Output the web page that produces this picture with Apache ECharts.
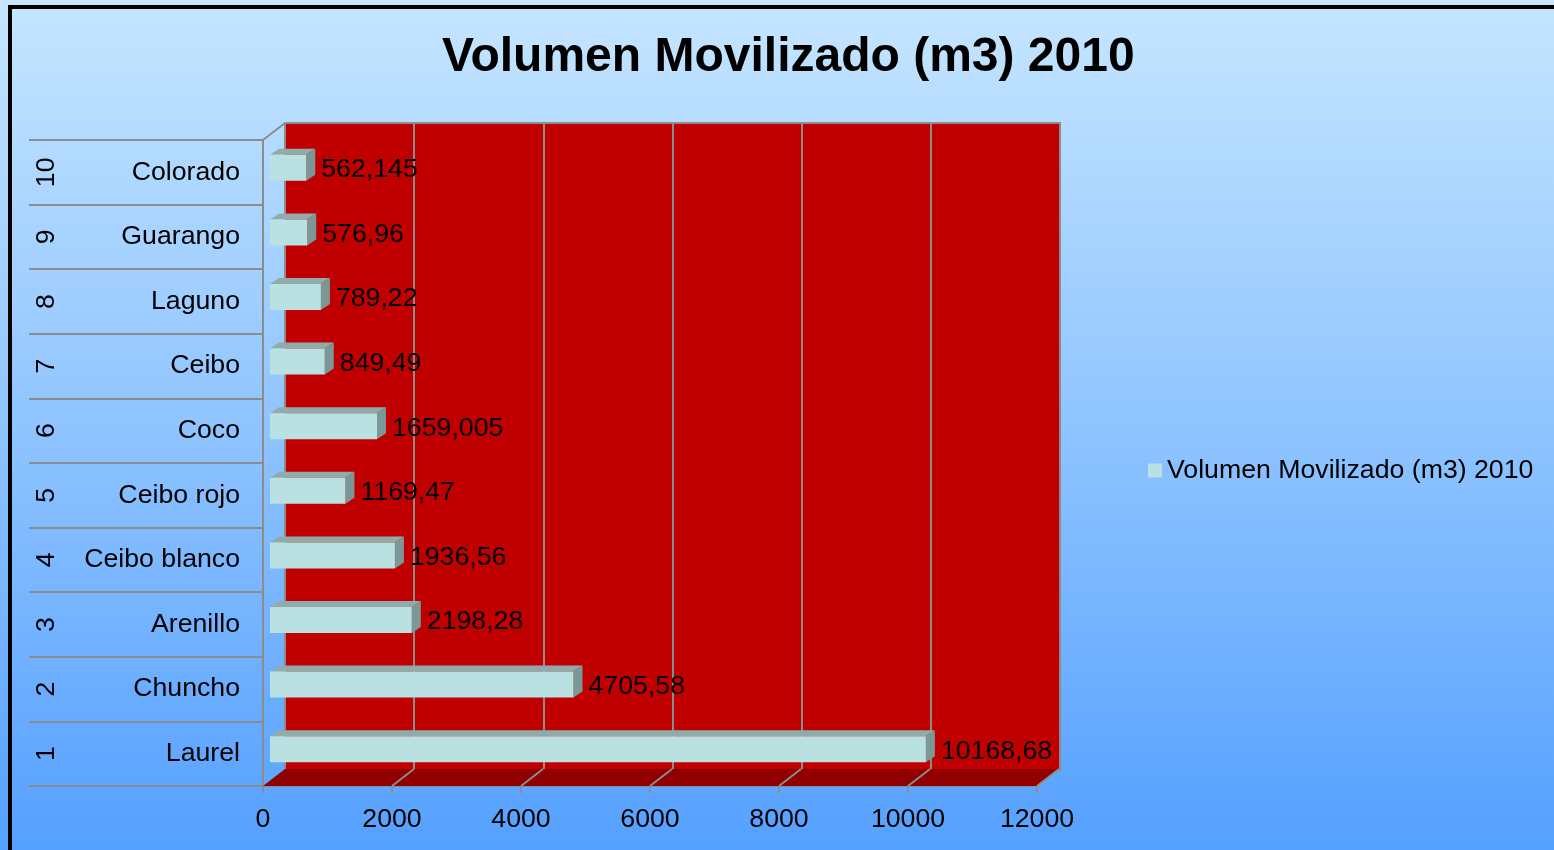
<!DOCTYPE html>
<html>
<head>
<meta charset="utf-8">
<script src="https://cdn.jsdelivr.net/npm/echarts@6/dist/echarts.min.js"></script>
<style>
html,body{margin:0;padding:0;}
#main{width:1554px;height:850px;}
</style>
</head>
<body>
<div id="main"></div>
<script>
// datos del grafico
var categories = ['Laurel', 'Chuncho', 'Arenillo', 'Ceibo blanco', 'Ceibo rojo', 'Coco', 'Ceibo', 'Laguno', 'Guarango', 'Colorado'];
var numbers = ['1', '2', '3', '4', '5', '6', '7', '8', '9', '10'];
var values = [10168.68, 4705.58, 2198.28, 1936.56, 1169.47, 1659.005, 849.49, 789.22, 576.96, 562.145];
var xTicks = [0, 2000, 4000, 6000, 8000, 10000, 12000];
var seriesName = 'Volumen Movilizado (m3) 2010';

var FONT = "'Liberation Sans', Arial, sans-serif";
var FS = 26.7;
var GRAY = '#8C8C8C';
// profundidad del efecto 3D
var DX = 22, DY = 17;
var FRONT = {left: 263, top: 140, width: 774, height: 646};

var BAR_H = 26, BAR_SX = 7, BAR_SY = 4.5, BAR_DX = 9, BAR_DY = 6;

function fmt(v) {
	return String(v).replace('.', ',');
}

function renderBar(params, api) {
	var v = api.value(0), i = api.value(1);
	var p0 = api.coord([0, i]);
	var p1 = api.coord([v, i]);
	var x0 = p0[0] + BAR_SX, x1 = p1[0] + BAR_SX;
	var yc = p0[1] - BAR_SY;
	var top = yc - BAR_H / 2, bot = yc + BAR_H / 2;
	return {
		type: 'group',
		children: [
			{type: 'polygon', shape: {points: [[x0, top], [x0 + BAR_DX, top - BAR_DY], [x1 + BAR_DX, top - BAR_DY], [x1, top]]},
				style: {fill: '#8FACAB'}},
			{type: 'polygon', shape: {points: [[x1, top], [x1 + BAR_DX, top - BAR_DY], [x1 + BAR_DX, bot - BAR_DY], [x1, bot]]},
				style: {fill: '#7A9897'}},
			{type: 'rect', shape: {x: x0, y: top, width: x1 - x0, height: BAR_H},
				style: {fill: '#B9E1E1'}},
			{type: 'text', style: {text: fmt(v), x: x1 + BAR_DX + 6, y: yc + 2, fill: '#000',
				font: FS + 'px ' + FONT, verticalAlign: 'middle', align: 'left'}}
		]
	};
}

function renderFloor(params, api) {
	var cs = params.coordSys;
	var yb = cs.y + cs.height;
	var xa = api.coord([api.value(0), 0])[0];
	var xb = api.coord([api.value(1), 0])[0];
	return {
		type: 'group',
		children: [
			{type: 'polygon', shape: {points: [[xa, yb], [xb, yb], [xb + DX, yb - DY], [xa + DX, yb - DY]]},
				style: {fill: '#900000'}},
			{type: 'line', shape: {x1: cs.x, y1: cs.y, x2: cs.x + DX, y2: cs.y - DY},
				style: {stroke: GRAY, lineWidth: 2}}
		]
	};
}

function renderDiag(params, api) {
	var cs = params.coordSys;
	var yb = cs.y + cs.height;
	var x = api.coord([api.value(0), 0])[0];
	return {type: 'line', shape: {x1: x, y1: yb, x2: x + DX, y2: yb - DY},
		style: {stroke: GRAY, lineWidth: 2}};
}

var myChart = echarts.init(document.getElementById('main'));
var option = {
	backgroundColor: new echarts.graphic.LinearGradient(0, 0, 0, 1, [
		{offset: 0, color: '#C6E6FF'},
		{offset: 0.5, color: '#8FC4FF'},
		{offset: 1, color: '#55A0FF'}
	]),
	textStyle: {fontFamily: FONT},
	title: {
		text: 'Volumen Movilizado (m3) 2010',
		left: 437,
		top: 29,
		textStyle: {fontSize: 48, fontWeight: 'bold', color: '#000', fontFamily: FONT}
	},
	legend: {
		data: [{name: seriesName, icon: 'rect'}],
		left: 1143,
		top: 452,
		itemWidth: 14,
		itemHeight: 14,
		textStyle: {fontSize: FS, color: '#000', fontFamily: FONT}
	},
	graphic: [
		{type: 'rect', shape: {x: 10, y: 7, width: 1700, height: 1000},
			style: {fill: null, stroke: '#000', lineWidth: 4}, z: 100}
	],
	grid: [
		{left: FRONT.left + DX, top: FRONT.top - DY, width: FRONT.width + 1, height: FRONT.height + 1,
			show: true, backgroundColor: '#C00000', borderColor: GRAY, borderWidth: 2, outerBoundsMode: 'none'},
		{left: FRONT.left, top: FRONT.top, width: FRONT.width, height: FRONT.height, outerBoundsMode: 'none'}
	],
	xAxis: [
		{gridIndex: 0, type: 'value', min: 0, max: 12000, interval: 2000,
			axisLine: {show: false}, axisTick: {show: false}, axisLabel: {show: false},
			splitLine: {show: true, lineStyle: {color: GRAY, width: 2}}},
		{gridIndex: 1, type: 'value', min: 0, max: 12000, interval: 2000,
			axisLine: {show: true, lineStyle: {color: GRAY, width: 2}},
			axisTick: {show: true, length: 7, lineStyle: {color: GRAY, width: 2}},
			axisLabel: {fontSize: FS, color: '#000', margin: 20, fontFamily: FONT,
				formatter: function (v) { return String(v); }},
			splitLine: {show: false}}
	],
	yAxis: [
		{gridIndex: 0, type: 'category', data: categories, show: false},
		{gridIndex: 1, type: 'category', data: categories, position: 'left',
			axisLine: {show: true, lineStyle: {color: GRAY, width: 2}},
			axisTick: {show: true, length: 234, lineStyle: {color: GRAY, width: 2}},
			axisLabel: {fontSize: FS, color: '#000', margin: 23, fontFamily: FONT,
				padding: [4, 0, 0, 0]},
			splitLine: {show: false}},
		{gridIndex: 1, type: 'category', data: numbers, position: 'left',
			axisLine: {show: false}, axisTick: {show: false},
			axisLabel: {fontSize: FS, color: '#000', margin: 203, rotate: 90, fontFamily: FONT},
			splitLine: {show: false}}
	],
	series: [
		{type: 'custom', name: 'floor', xAxisIndex: 1, yAxisIndex: 1, z: 1, silent: true,
			renderItem: renderFloor, data: [[xTicks[0], xTicks[xTicks.length - 1]]]},
		{type: 'custom', name: 'diag', xAxisIndex: 1, yAxisIndex: 1, z: 1, silent: true,
			renderItem: renderDiag, data: xTicks.slice(1).map(function (t) { return [t]; })},
		{type: 'custom', name: seriesName, xAxisIndex: 1, yAxisIndex: 1, z: 3,
			itemStyle: {color: '#B9E1E1'},
			encode: {x: 0, y: 1},
			renderItem: renderBar,
			data: values.map(function (v, i) { return [v, i]; })}
	]
};
myChart.setOption(option);
window.onresize = myChart.resize;
</script>
</body>
</html>
